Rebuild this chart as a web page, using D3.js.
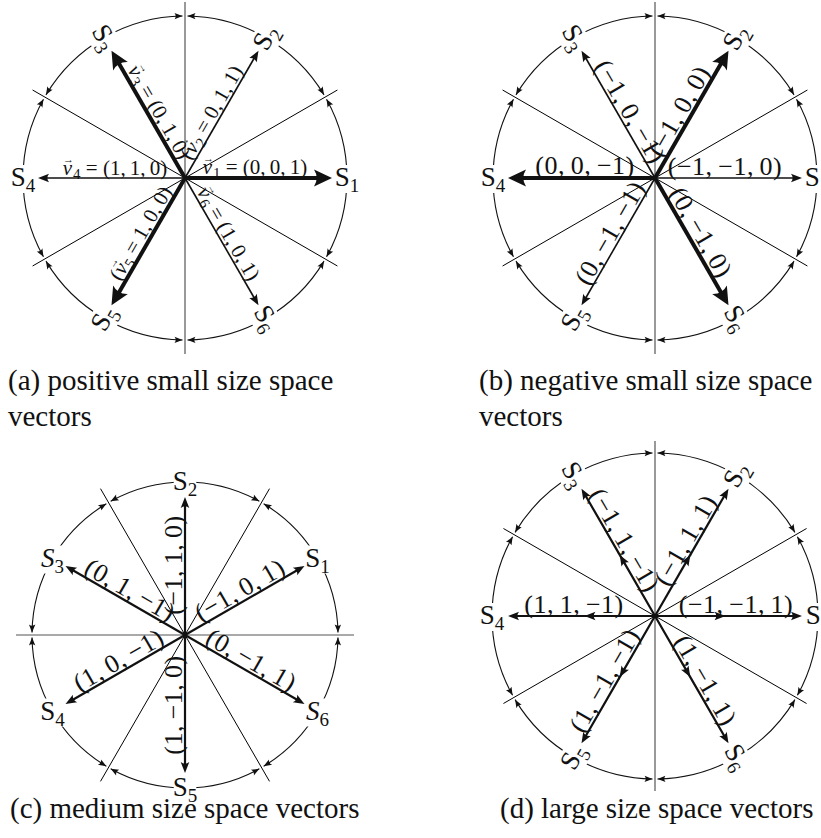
<!DOCTYPE html>
<html>
<head>
<meta charset="utf-8">
<script src="https://cdn.jsdelivr.net/npm/d3@7"></script>
<style>
  body { margin: 0; background: #fff; }
  svg { display: block; font-family: "Liberation Serif", "Times New Roman", serif; }
</style>
</head>
<body>
<svg id="chart" width="821" height="838"></svg>
<script>
// ---- data ----------------------------------------------------------------
// sector names S1..S6 (subscript digit)
const sectorIndex = ["1", "2", "3", "4", "5", "6"];
// vector directions (degrees, counter-clockwise from +x)
const cornerAngles = [0, 60, 120, 180, 240, 300];
const edgeAngles = [30, 90, 150, 210, 270, 330];
// sector boundary lines through the origin
const cornerBoundaries = [30, 90, 150];
const edgeBoundaries = [0, 60, 120];

// switching states of each vector
const positiveSmall = ["(0,0,1)", "(0,1,1)", "(0,1,0)", "(1,1,0)", "(1,0,0)", "(1,0,1)"];
const negativeSmall = ["(−1,−1,0)", "(−1,0,0)", "(−1,0,−1)", "(0,0,−1)", "(0,−1,−1)", "(0,−1,0)"];
const mediumVectors = ["(−1,0,1)", "(−1,1,0)", "(0,1,−1)", "(1,0,−1)", "(1,−1,0)", "(0,−1,1)"];
const largeVectors = ["(−1,−1,1)", "(−1,1,1)", "(−1,1,−1)", "(1,1,−1)", "(1,−1,−1)", "(1,−1,1)"];
// which small vectors are drawn heavy
const positiveHeavy = [true, false, true, false, true, false];
const negativeHeavy = [false, true, false, true, false, true];
// vector magnitudes (relative to the drawn reference length)
const unitMagnitude = [1, 1, 1, 1, 1, 1];

const captionA = ["(a) positive small size space", "vectors"];
const captionB = ["(b) negative small size space", "vectors"];
const captionC = ["(c) medium size space vectors"];
const captionD = ["(d) large size space vectors"];

// ---- helpers -------------------------------------------------------------
const deg = Math.PI / 180;
const svg = d3.select("#chart");
const defs = svg.append("defs");

// polar point for a math angle (deg) and radius (px)
const pt = (phi, r) => d3.pointRadial((90 - phi) * deg, r);

function addMarker(id, len, half, refX) {
  defs.append("marker")
    .attr("id", id)
    .attr("markerUnits", "userSpaceOnUse")
    .attr("viewBox", `0 ${-half} ${len} ${2 * half}`)
    .attr("markerWidth", len).attr("markerHeight", 2 * half)
    .attr("refX", refX).attr("refY", 0)
    .attr("orient", "auto-start-reverse")
    .style("overflow", "visible")
    .append("path")
    .attr("d", `M0,${-half} Q${len * 0.3},0 0,${half} L${len},0 Z`)
    .attr("fill", "#111");
}
const arrows = {
  arc:   { id: "ahArc",   len: 8,  half: 3.2, ref: 8 },
  thin:  { id: "ahThin",  len: 11, half: 4.3, ref: 4 },
  thick: { id: "ahThick", len: 18, half: 8.5, ref: 6 },
  mid:   { id: "ahMid",   len: 11, half: 4.3, ref: 11 }
};
Object.values(arrows).forEach(a => addMarker(a.id, a.len, a.half, a.ref));

function rich(text, parts) {
  parts.forEach(p => {
    const ts = text.append("tspan").text(p.t);
    if (p.italic) ts.attr("font-style", "italic");
    if (p.size) ts.attr("font-size", p.size);
    if (p.dx != null) ts.attr("dx", p.dx);
    if (p.dy != null) ts.attr("dy", p.dy);
  });
}

// spread the commas a little, as in typeset math
const spaced = s => s.replace(/,/g, ",\u2009");

// ---- panels --------------------------------------------------------------
const panels = [
  { cx: 185, cy: 178, R: 162, tip: 147, reach: 176, angles: cornerAngles, bounds: cornerBoundaries,
    values: positiveSmall, heavy: positiveHeavy, style: "small", font: 21, labelAt: 70,
    named: true, openFirst: [false, true, false, false, true, false],
    rotS: true, caption: captionA, capX: 8, capY: 390 },
  { cx: 655, cy: 178, R: 162, tip: 147, reach: 176, angles: cornerAngles, bounds: cornerBoundaries,
    values: negativeSmall, heavy: negativeHeavy, style: "small", font: 26, labelAt: 70,
    rotS: true, caption: captionB, capX: 479, capY: 390 },
  { cx: 185, cy: 635, R: 153, tip: 138, reach: 169, angles: edgeAngles, bounds: edgeBoundaries,
    values: mediumVectors, style: "medium", font: 26, labelAt: 70,
    rotS: false, italicS: [false, false, true, false, false, true], caption: captionC, capX: 10, capY: 818 },
  { cx: 655, cy: 616, R: 163, tip: 147, reach: 175, angles: cornerAngles, bounds: cornerBoundaries,
    values: largeVectors, style: "large", font: 26, labelAt: 81,
    rotS: true, caption: captionD, capX: 500, capY: 818 }
];

panels.forEach(p => {
  const g = svg.append("g").attr("transform", `translate(${p.cx},${p.cy})`);
  const rad = d3.scaleLinear().domain([0, 1]).range([0, p.tip]);

  // sector boundary lines
  g.selectAll("line.bound").data(p.bounds).join("line")
    .attr("class", "bound")
    .attr("x1", b => pt(b, p.reach)[0]).attr("y1", b => pt(b, p.reach)[1])
    .attr("x2", b => pt(b + 180, p.reach)[0]).attr("y2", b => pt(b + 180, p.reach)[1])
    .attr("stroke", b => (b % 90 === 0 ? "#555" : "#000"))
    .attr("stroke-width", b => (b % 90 === 0 ? 1.2 : 1));

  // circle split into six arcs, each with arrowheads at both ends
  const starts = d3.range(6).map(i => p.bounds[0] + 60 * i);
  const gap = 2.5 / p.R;
  g.selectAll("path.arc").data(starts).join("path")
    .attr("class", "arc")
    .attr("d", s => {
      const path = d3.path();
      path.arc(0, 0, p.R, -(s * deg + gap), -((s + 60) * deg - gap), true);
      return path.toString();
    })
    .attr("fill", "none").attr("stroke", "#111").attr("stroke-width", 1.1)
    .attr("marker-start", "url(#ahArc)").attr("marker-end", "url(#ahArc)");

  // space vectors
  const vecs = p.angles.map((a, i) => ({
    a, i, m: unitMagnitude[i],
    heavy: p.heavy ? p.heavy[i] : false
  }));
  vecs.forEach(v => {
    let head, width;
    if (p.style === "small") {
      head = v.heavy ? arrows.thick : arrows.thin;
      width = v.heavy ? 4 : 1.6;
    } else {
      head = arrows.thin;
      width = 2.2;
    }
    const tipR = rad(v.m);
    const end = pt(v.a, tipR - (head.len - head.ref));
    const path = d3.path();
    path.moveTo(0, 0);
    if (p.style === "large") {
      const mid = pt(v.a, tipR * 0.48);
      path.lineTo(mid[0], mid[1]);
    }
    path.lineTo(end[0], end[1]);
    const el = g.append("path").attr("d", path.toString())
      .attr("fill", "none").attr("stroke", "#111").attr("stroke-width", width)
      .attr("marker-end", `url(#${head.id})`);
    if (p.style === "large") el.attr("marker-mid", "url(#ahMid)");
  });

  // vector labels, centred along each vector
  vecs.forEach(v => {
    const c = Math.cos(v.a * deg), s = Math.sin(v.a * deg);
    const outward = c > 1e-9 || (Math.abs(c) <= 1e-9 && s > 0);
    const rot = outward ? -v.a : 180 - v.a;
    const off = v.heavy ? 4 : 3;
    const lg = g.append("g").attr("transform", `rotate(${rot})`);
    const t = lg.append("text")
      .attr("x", outward ? p.labelAt : -p.labelAt).attr("y", -off)
      .attr("text-anchor", "middle")
      .attr("font-size", p.font).attr("fill", "#111");
    const val = spaced(p.values[v.i]);
    if (p.named) {
      const open = p.openFirst[v.i];
      const body = open ? val.slice(1) : val;
      const parts = [];
      if (open) parts.push({ t: "(" });
      parts.push({ t: "v", italic: true });
      parts.push({ t: "\u2192", size: 11, dx: -9, dy: -12 });
      parts.push({ t: sectorIndex[v.i], size: 15, dx: -1, dy: 16 });
      parts.push({ t: " = " + body, dy: -4 });
      rich(t, parts);
    } else {
      t.attr("letter-spacing", 0.5).text(val);
    }
  });

  // sector names on the circle
  p.angles.forEach((a, i) => {
    const [x, y] = pt(a, p.R);
    let rot = 0;
    if (p.rotS) {
      const m = ((a % 180) + 180) % 180;
      rot = m === 60 ? -60 : (m === 120 ? 60 : 0);
    }
    const sg = g.append("g").attr("transform", `translate(${x},${y}) rotate(${rot})`);
    const bgRect = sg.append("rect").attr("fill", "#fff");
    const t = sg.append("text").attr("text-anchor", "middle").attr("y", 8)
      .attr("font-size", 27).attr("fill", "#111");
    rich(t, [
      { t: "S", italic: p.italicS ? p.italicS[i] : false },
      { t: sectorIndex[i], size: 19, dy: 6 }
    ]);
    const bb = t.node().getBBox();
    bgRect.attr("x", bb.x + 1).attr("y", bb.y + 3)
      .attr("width", bb.width - 2).attr("height", bb.height - 6);
  });

  // caption
  const cap = svg.append("text").attr("x", p.capX).attr("y", p.capY)
    .attr("font-size", 29).attr("fill", "#111");
  p.caption.forEach((line, k) => {
    cap.append("tspan").attr("x", p.capX).attr("dy", k === 0 ? 0 : 36).text(line);
  });
});
</script>
</body>
</html>
